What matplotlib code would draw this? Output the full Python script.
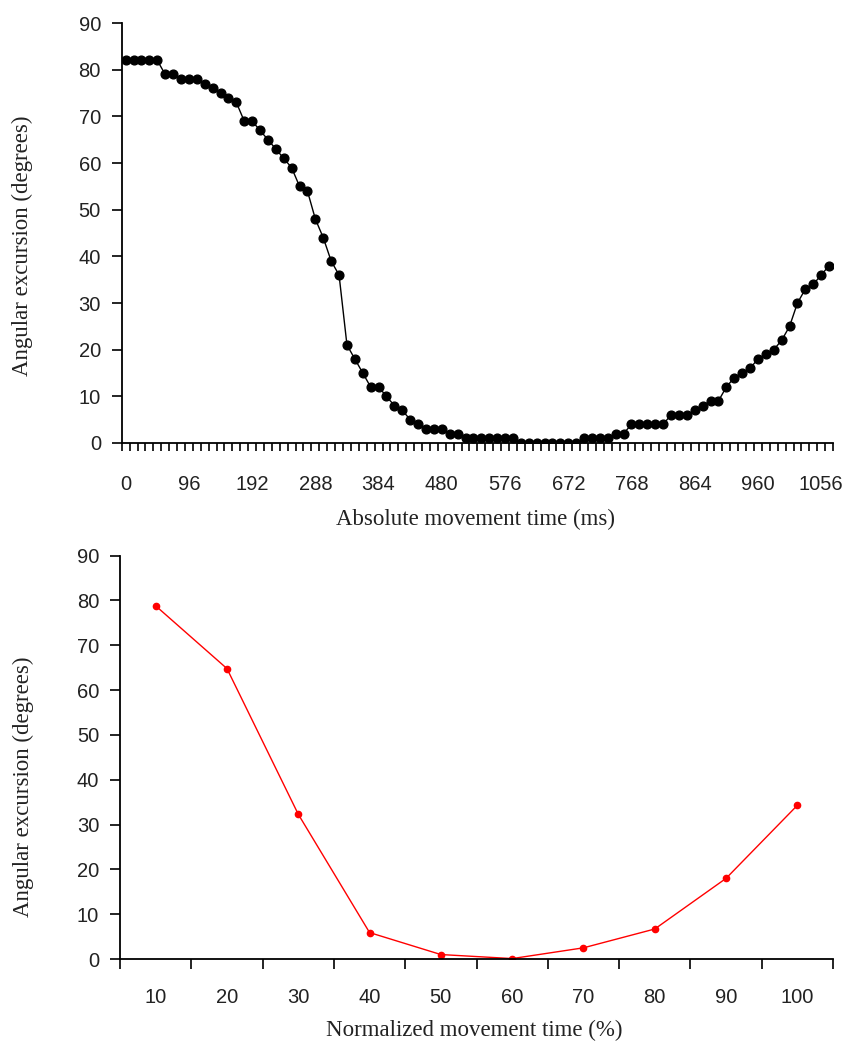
import matplotlib
matplotlib.use("Agg")
import matplotlib.pyplot as plt
import numpy as np

# top panel: angle sampled every 12 ms
time_ms = list(range(0, 1080, 12))
angle_abs = [82, 82, 82, 82, 82, 79, 79, 78, 78, 78,
             77, 76, 75, 74, 73, 69, 69, 67, 65, 63,
             61, 59, 55, 54, 48, 44, 39, 36, 21, 18,
             15, 12, 12, 10, 8, 7, 5, 4, 3, 3,
             3, 2, 2, 1, 1, 1, 1, 1, 1, 1,
             0, 0, 0, 0, 0, 0, 0, 0, 1, 1,
             1, 1, 2, 2, 4, 4, 4, 4, 4, 6,
             6, 6, 7, 8, 9, 9, 12, 14, 15, 16,
             18, 19, 20, 22, 25, 30, 33, 34, 36, 38]

# bottom panel: normalized time
norm_time = [10, 20, 30, 40, 50, 60, 70, 80, 90, 100]
angle_norm = [78.8, 64.8, 32.3, 5.9, 1.0, 0.1, 2.5, 6.7, 18.0, 34.3]

tick_font = "Liberation Sans"
label_font = "Liberation Serif"
txt_col = "#222222"

fig = plt.figure(figsize=(8.47, 10.48), dpi=100)
ax1 = fig.add_axes([0.1437, 0.5773, 0.8398, 0.4007])
ax2 = fig.add_axes([0.1417, 0.0849, 0.8418, 0.3849])

def style(ax):
    for s in ["top", "right"]:
        ax.spines[s].set_visible(False)
    for s in ["left", "bottom"]:
        ax.spines[s].set_linewidth(1.3)
    ax.set_ylim(0, 90)
    ax.set_yticks(range(0, 91, 10))
    ax.tick_params(axis="y", length=7, width=1.2, pad=8, labelsize=14.5,
                   labelcolor=txt_col)
    for lab in ax.get_yticklabels():
        lab.set_fontfamily(tick_font)

# top chart
idx = np.arange(len(time_ms))
ax1.plot(idx, angle_abs, color="black", lw=1, marker="o", ms=6.3)
ax1.set_xlim(-0.5, len(time_ms) - 0.5)
style(ax1)
ax1.set_xticks(np.arange(-0.5, len(time_ms), 1.0))
ax1.set_xticklabels([])
ax1.tick_params(axis="x", which="major", length=5.5, width=1.2)
ax1.set_xticks(idx[::8], minor=True)
ax1.set_xticklabels([str(t) for t in time_ms[::8]], minor=True,
                    fontsize=14.5, fontfamily=tick_font, color=txt_col)
ax1.tick_params(axis="x", which="minor", length=0, pad=23)
ax1.set_xlabel("Absolute movement time (ms)", fontsize=16.5,
               fontfamily=label_font, color=txt_col)
ax1.xaxis.set_label_coords(0.497, -0.183)
ax1.xaxis.label.set_verticalalignment("center")
ax1.set_ylabel("Angular excursion (degrees)", fontsize=16.5,
               fontfamily=label_font, color=txt_col)
ax1.yaxis.set_label_coords(-0.140, 0.47)
ax1.yaxis.label.set_verticalalignment("center")

# bottom chart
idx2 = np.arange(len(norm_time))
ax2.plot(idx2, angle_norm, color="#ff0000", lw=1, marker="o", ms=4.5)
ax2.set_xlim(-0.5, len(norm_time) - 0.5)
style(ax2)
ax2.set_xticks(np.arange(-0.5, len(norm_time), 1.0))
ax2.set_xticklabels([])
ax2.tick_params(axis="x", which="major", length=7, width=1.2)
ax2.set_xticks(idx2, minor=True)
ax2.set_xticklabels([str(t) for t in norm_time], minor=True,
                    fontsize=14.5, fontfamily=tick_font, color=txt_col)
ax2.tick_params(axis="x", which="minor", length=0, pad=21)
ax2.set_xlabel("Normalized movement time (%)", fontsize=16.5,
               fontfamily=label_font, color=txt_col)
ax2.xaxis.set_label_coords(0.497, -0.176)
ax2.xaxis.label.set_verticalalignment("center")
ax2.set_ylabel("Angular excursion (degrees)", fontsize=16.5,
               fontfamily=label_font, color=txt_col)
ax2.yaxis.set_label_coords(-0.136, 0.427)
ax2.yaxis.label.set_verticalalignment("center")

fig.savefig("out.png", dpi=100)
